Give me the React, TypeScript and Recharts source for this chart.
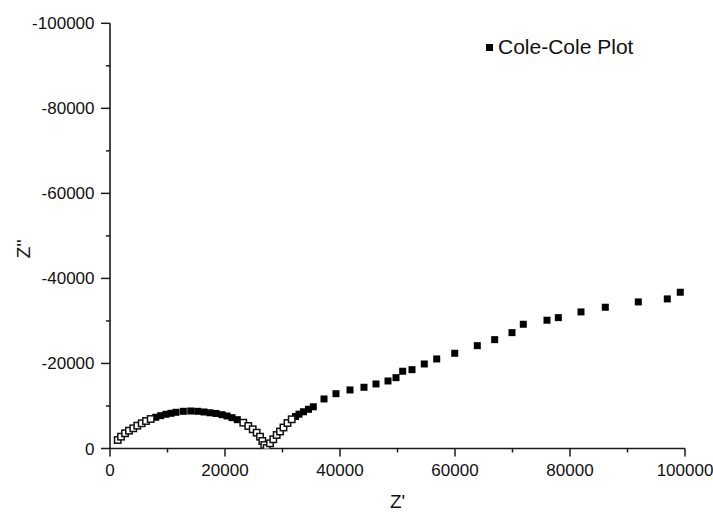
import React from "react";
import { ScatterChart, Scatter, XAxis, YAxis, Legend } from "recharts";

// Impedance data (Z', Z'')
const openStartX = [1340, 1910, 2610, 3300, 4050, 4750, 5510, 6260, 7080];
const openStartY = [-2000, -2780, -3580, -4190, -4750, -5370, -5930, -6470, -6940];

const solidArcX = [7950, 8820, 9740, 10610, 11480, 12750, 14040, 15250, 16350, 17390, 18440, 19480, 20350, 21220, 22140];
const solidArcY = [-7340, -7720, -8050, -8280, -8520, -8750, -8820, -8750, -8590, -8400, -8240, -7950, -7650, -7250, -6780];

const openDipX = [23180, 24050, 24820, 25510, 26090, 26490, 26830, 27250, 27830, 28400, 28990, 29570, 30170, 30870, 31600];
const openDipY = [-6070, -5290, -4520, -3720, -2780, -1770, -820, -120, -1220, -2170, -3180, -4000, -4940, -6000, -6870];

const solidTailX = [32260, 32870, 33650, 34520, 35360, 37220, 39300, 41740, 44170, 46260, 48350, 49740, 50900, 52520, 54660, 56820, 59950, 63880, 66900, 69910, 71880, 76000, 77970, 81910, 86140, 91880, 96920, 99180];
const solidTailY = [-7530, -8070, -8640, -9220, -9810, -11650, -12890, -13770, -14400, -15180, -15880, -16660, -18170, -18540, -19880, -21060, -22400, -24190, -25600, -27250, -29220, -30170, -30780, -32120, -33220, -34470, -35180, -36750];

const xTicks = [0, 10000, 20000, 30000, 40000, 50000, 60000, 70000, 80000, 90000, 100000];
const yTicks = [-100000, -90000, -80000, -70000, -60000, -50000, -40000, -30000, -20000, -10000, 0];
const legendLabel = "Cole-Cole Plot";
const xTitle = "Z'";
const yTitle = "Z''";

const zip = (xs: number[], ys: number[]) => xs.map((x, i) => ({ x, y: ys[i] }));
const solidData = [...zip(solidArcX, solidArcY), ...zip(solidTailX, solidTailY)];
const openData = [...zip(openStartX, openStartY), ...zip(openDipX, openDipY)];

const FONT = "'Liberation Sans', Arial, Helvetica, sans-serif";
const AXIS = "#1a1a1a";

const SolidSquare = (p: any) => (
  <rect x={p.cx - 3.5} y={p.cy - 3.5} width={7} height={7} fill="#000" />
);
const OpenSquare = (p: any) => (
  <rect x={p.cx - 3.2} y={p.cy - 3.2} width={6.4} height={6.4} fill="#fff" stroke="#111" strokeWidth={1.5} />
);

const XTick = (props: any) => {
  const { x, y, payload } = props;
  const major = payload.value % 20000 === 0;
  return (
    <g>
      <line x1={x} y1={y} x2={x} y2={y + (major ? 8 : 4)} stroke={AXIS} strokeWidth={1.5} />
      {major && (
        <text x={x} y={y + 27.5} textAnchor="middle" fontSize={17} fontFamily={FONT} fill="#111">
          {String(payload.value)}
        </text>
      )}
    </g>
  );
};

const YTick = (props: any) => {
  const { x, y, payload } = props;
  const major = payload.value % 20000 === 0;
  return (
    <g>
      <line x1={x} y1={y} x2={x - (major ? 9 : 4)} y2={y} stroke={AXIS} strokeWidth={1.5} />
      {major && (
        <text x={x - 15.5} y={y + 6} textAnchor="end" fontSize={17} fontFamily={FONT} fill="#111">
          {String(payload.value)}
        </text>
      )}
    </g>
  );
};

const renderXTitle = (props: any) => {
  const vb = props.viewBox || {};
  return (
    <text x={vb.x + vb.width / 2} y={vb.y + 59} textAnchor="middle" fontSize={19} fontFamily={FONT} fill="#111">
      {xTitle}
    </text>
  );
};

const renderYTitle = (props: any) => {
  const vb = props.viewBox || {};
  const cx = 30;
  const cy = vb.y + vb.height / 2 + 13;
  return (
    <text x={cx} y={cy} transform={`rotate(-90, ${cx}, ${cy})`} textAnchor="middle" fontSize={19} fontFamily={FONT} fill="#111">
      {yTitle}
    </text>
  );
};

const LegendContent = () => (
  <div style={{ display: "flex", alignItems: "center", fontFamily: FONT, fontSize: 21, lineHeight: "24px", color: "#111", whiteSpace: "nowrap" }}>
    <span style={{ display: "inline-block", width: 7, height: 7, background: "#000", marginRight: 5 }} />
    <span>{legendLabel}</span>
  </div>
);

export default function App() {
  return (
    <div style={{ position: "absolute", left: 0, top: 0, width: 713, height: 512, background: "#fff" }}>
      <ScatterChart width={713} height={512} margin={{ top: 23.3, right: 28, bottom: 3.5, left: 0 }}>
        <XAxis
          type="number"
          dataKey="x"
          domain={[0, 100000]}
          ticks={xTicks}
          interval={0}
          allowDataOverflow
          height={60}
          axisLine={{ stroke: AXIS, strokeWidth: 1.6 }}
          tickLine={false}
          tickSize={0}
          tickMargin={0}
          tick={<XTick />}
          label={renderXTitle}
        />
        <YAxis
          type="number"
          dataKey="y"
          domain={[-100000, 0]}
          reversed
          ticks={yTicks}
          interval={0}
          allowDataOverflow
          width={110}
          axisLine={{ stroke: AXIS, strokeWidth: 1.6 }}
          tickLine={false}
          tickSize={0}
          tickMargin={0}
          tick={<YTick />}
          label={renderYTitle}
        />
        <Legend
          layout="horizontal"
          verticalAlign="middle"
          align="center"
          content={<LegendContent />}
          wrapperStyle={{ left: 486, top: 35, width: "auto" }}
        />
        <Scatter name={legendLabel} data={solidData} shape={SolidSquare} isAnimationActive={false} />
        <Scatter name="open" legendType="none" data={openData} shape={OpenSquare} isAnimationActive={false} />
      </ScatterChart>
    </div>
  );
}
